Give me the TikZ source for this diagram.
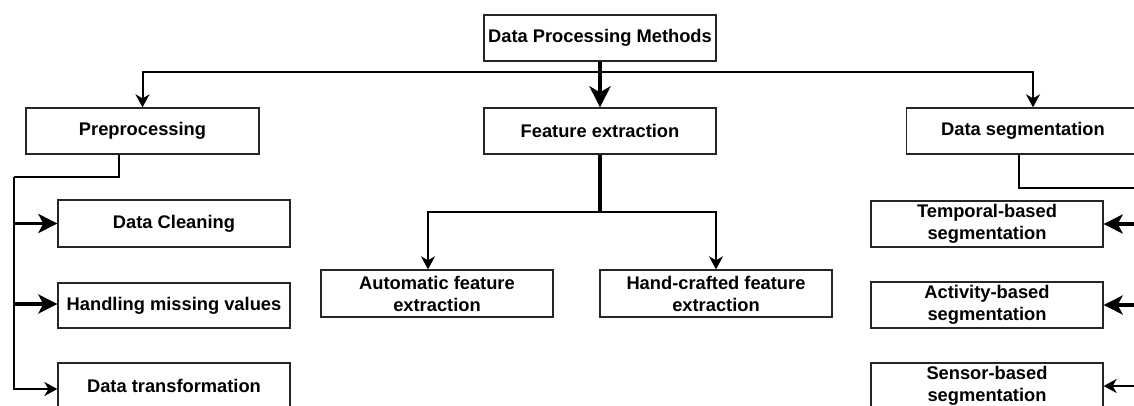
\documentclass[tikz,border=0pt]{standalone}
\usepackage{fontspec}
\setmainfont{Liberation Sans}
\usetikzlibrary{arrows.meta}
\tikzset{
  box/.style={draw=black!85, line width=1.3pt, rectangle, inner sep=0pt,
    minimum width=232pt, minimum height=46pt, align=center,
    font=\fontsize{18.3}{22}\selectfont\bfseries},
  link/.style={draw=black, line width=2pt},
  thinarr/.style={link, -{Stealth[length=13pt, width=14pt, inset=4pt]}},
  boldarr/.style={draw=black, line width=4pt, -{Stealth[length=21pt, width=21pt, inset=6pt]}},
  midarr/.style={draw=black, line width=3.5pt, -{Stealth[length=19pt, width=19pt, inset=5pt]}}
}
\begin{document}
\begin{tikzpicture}[x=1pt, y=-1pt]
\useasboundingbox (0,0) rectangle (1134,405);
\clip (0,0) rectangle (1134,405);

% root and first level
\node[box] (dpm)  at (600,38)    {Data Processing Methods};
\node[box, minimum width=233pt] (pre) at (142.5,131) {Preprocessing};
\node[box] (fe)   at (600,131)   {Feature extraction};
\node[box, minimum width=233pt] (seg) at (1023,131) {Data segmentation};

% preprocessing steps
\node[box, minimum height=47pt] (clean) at (174,223.5) {Data Cleaning};
\node[box, minimum height=45pt] (miss)  at (174,305.5) {Handling missing values};
\node[box] (trans) at (174,386) {Data transformation};

% feature extraction kinds
\node[box, minimum height=47pt] (auto) at (437,293.5) {Automatic feature\\extraction};
\node[box, minimum height=47pt] (hand) at (716,293.5) {Hand-crafted feature\\extraction};

% segmentation kinds
\node[box] (temp) at (987,224) {Temporal-based\\segmentation};
\node[box] (act)  at (987,305) {Activity-based\\segmentation};
\node[box] (sens) at (987,386) {Sensor-based\\segmentation};

% junction points
\coordinate (top) at (600,72);
\coordinate (pl)  at (14,177);
\coordinate (fj)  at (600,212);
\coordinate (sr)  at (1160,188);

% root to first level
\draw[boldarr] (dpm.south) -- (fe.north);
\draw[thinarr] (top) -| (pre.north);
\draw[thinarr] (top) -| ([xshift=10pt]seg.north);

% preprocessing branch
\draw[link] ([xshift=-23.5pt]pre.south) |- (pl);
\draw[thinarr] (pl) |- ([yshift=-3pt]trans.west);
\draw[midarr] (pl |- clean.west) -- (clean.west);
\draw[midarr] ([yshift=1.5pt]pl |- miss.west) -- ([yshift=1.5pt]miss.west);

% feature extraction branch
\draw[draw=black, line width=3.3pt] (fe.south) -- (fj);
\draw[thinarr] (fj) -| ([xshift=-9pt]auto.north);
\draw[thinarr] (fj) -| (hand.north);

% segmentation branch
\draw[link] ([xshift=-4pt]seg.south) |- (sr);
\draw[midarr] (sr |- temp.east) -- (temp.east);
\draw[midarr] (sr |- act.east) -- (act.east);
\draw[thinarr] (sr |- sens.east) -- (sens.east);
\end{tikzpicture}
\end{document}
